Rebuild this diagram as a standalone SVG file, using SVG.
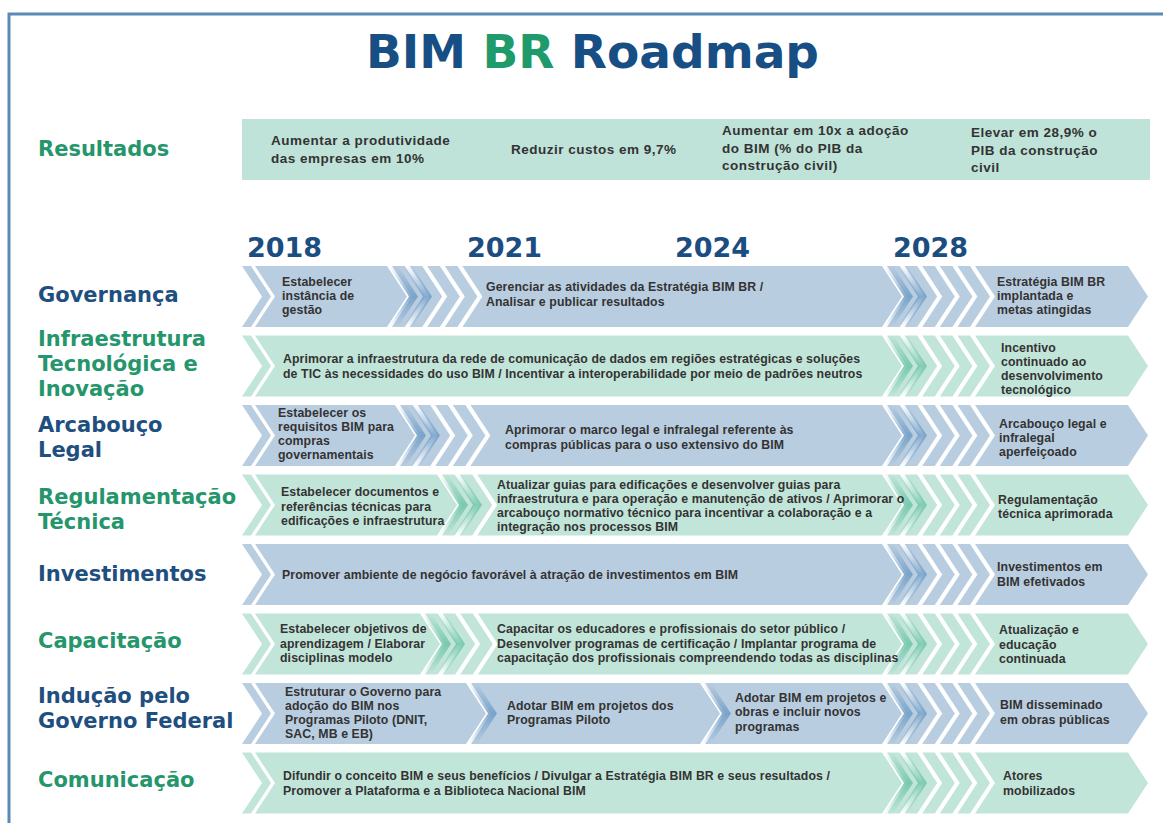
<svg xmlns="http://www.w3.org/2000/svg" width="1163" height="823" viewBox="0 0 1163 823">
<style>
.b{fill:#b9cde0}
.g{fill:#c2e5d9}
.db{fill:url(#gradB)}
.dg{fill:url(#gradG)}
.t{font-family:"Liberation Sans",Arial,sans-serif;font-size:12.3px;font-weight:700;letter-spacing:0.1px;fill:#333333}
.r{font-family:"Liberation Sans",Arial,sans-serif;font-size:13.5px;font-weight:700;letter-spacing:0.5px;fill:#333333}
.lb{font-family:"DejaVu Sans","Liberation Sans",sans-serif;font-size:21px;font-weight:700;fill:#1f4f7f}
.lg{font-family:"DejaVu Sans","Liberation Sans",sans-serif;font-size:21px;font-weight:700;fill:#25966b}
.yr{font-family:"DejaVu Sans","Liberation Sans",sans-serif;font-size:27px;font-weight:700;fill:#1b4d80}
</style>
<defs>
<linearGradient id="gradB" x1="0" y1="0" x2="0" y2="1">
<stop offset="0" stop-color="#6f9cc6" stop-opacity="0"/>
<stop offset="0.5" stop-color="#6f9cc6" stop-opacity="0.85"/>
<stop offset="1" stop-color="#6f9cc6" stop-opacity="0"/>
</linearGradient>
<linearGradient id="gradG" x1="0" y1="0" x2="0" y2="1">
<stop offset="0" stop-color="#6cc4a6" stop-opacity="0"/>
<stop offset="0.5" stop-color="#6cc4a6" stop-opacity="0.85"/>
<stop offset="1" stop-color="#6cc4a6" stop-opacity="0"/>
</linearGradient>
<polygon id="st" points="0,0 12.6,0 32.6,30.5 12.6,61 0,61 20,30.5"/>
<polygon id="ch9" points="0,0 9,0 29,30.5 9,61 0,61 20,30.5"/>
</defs>

<rect width="1163" height="823" fill="#ffffff"/>
<path d="M9,823 V14 H1163" fill="none" stroke="#5b8ab5" stroke-width="3"/>

<g id="title">
<text x="366" y="68" font-family="DejaVu Sans, Liberation Sans, sans-serif" font-size="47" font-weight="700"><tspan fill="#174e84">BIM </tspan><tspan fill="#1f9a6b">BR</tspan><tspan fill="#174e84"> Roadmap</tspan></text>
</g>

<g id="resultados">
<text class="lg" x="38" y="156">Resultados</text>
<rect x="242" y="119" width="908" height="61" fill="#bfe3d9"/>
<text class="r" x="271" y="145">Aumentar a produtividade</text>
<text class="r" x="271" y="163">das empresas em 10%</text>
<text class="r" x="511" y="154">Reduzir custos em 9,7%</text>
<text class="r" x="722" y="135">Aumentar em 10x a adoção</text>
<text class="r" x="722" y="153">do BIM (% do PIB da</text>
<text class="r" x="722" y="170">construção civil)</text>
<text class="r" x="971" y="137">Elevar em 28,9% o</text>
<text class="r" x="971" y="155">PIB da construção</text>
<text class="r" x="971" y="172">civil</text>
</g>

<g id="anos">
<text class="yr" x="247" y="257">2018</text>
<text class="yr" x="467" y="257">2021</text>
<text class="yr" x="675" y="257">2024</text>
<text class="yr" x="893" y="257">2028</text>
</g>

<g id="governanca" transform="translate(0,266)">
<text class="lb" x="38" y="36">Governança</text>
<use href="#ch9" x="242" class="b"/>
<polygon class="b" points="255,0 387,0 407,30.5 387,61 255,61 275,30.5"/>
<use href="#st" x="392" class="b"/><use href="#st" x="409.6" class="b"/><use href="#st" x="427.2" class="b"/><use href="#st" x="444.8" class="b"/>
<polygon class="b" points="462.4,0 882,0 902,30.5 882,61 462.4,61 482.4,30.5"/>
<use href="#st" x="887" class="b"/><use href="#st" x="904.6" class="b"/><use href="#st" x="922.2" class="b"/><use href="#st" x="939.8" class="b"/><use href="#st" x="957.4" class="b"/>
<polygon class="b" points="975,0 1128,0 1148,30.5 1128,61 975,61 995,30.5"/>
<use href="#ch9" x="389" class="db"/><use href="#ch9" x="403" class="db"/>
<use href="#ch9" x="884" class="db"/><use href="#ch9" x="898" class="db"/>
<text class="t" x="282" y="19.5">Estabelecer</text>
<text class="t" x="282" y="33.5">instância de</text>
<text class="t" x="282" y="47.5">gestão</text>
<text class="t" x="486" y="25">Gerenciar as atividades da Estratégia BIM BR /</text>
<text class="t" x="486" y="40">Analisar e publicar resultados</text>
<text class="t" x="997" y="19.5">Estratégia BIM BR</text>
<text class="t" x="997" y="33.5">implantada e</text>
<text class="t" x="997" y="47.5">metas atingidas</text>
</g>

<g id="infraestrutura" transform="translate(0,335.5)">
<text class="lg" x="38" y="10">Infraestrutura</text>
<text class="lg" x="38" y="35">Tecnológica e</text>
<text class="lg" x="38" y="60">Inovação</text>
<use href="#ch9" x="242" class="g"/>
<polygon class="g" points="255,0 882,0 902,30.5 882,61 255,61 275,30.5"/>
<use href="#st" x="887" class="g"/><use href="#st" x="904.6" class="g"/><use href="#st" x="922.2" class="g"/><use href="#st" x="939.8" class="g"/><use href="#st" x="957.4" class="g"/>
<polygon class="g" points="975,0 1128,0 1148,30.5 1128,61 975,61 995,30.5"/>
<use href="#ch9" x="884" class="dg"/><use href="#ch9" x="898" class="dg"/>
<text class="t" x="283" y="27.5">Aprimorar a infraestrutura da rede de comunicação de dados em regiões estratégicas e soluções</text>
<text class="t" x="283" y="42">de TIC às necessidades do uso BIM / Incentivar a interoperabilidade por meio de padrões neutros</text>
<text class="t" x="1001" y="16">Incentivo</text>
<text class="t" x="1001" y="30">continuado ao</text>
<text class="t" x="1001" y="44">desenvolvimento</text>
<text class="t" x="1001" y="58">tecnológico</text>
</g>

<g id="arcabouco" transform="translate(0,405)">
<text class="lb" x="38" y="27">Arcabouço</text>
<text class="lb" x="38" y="52">Legal</text>
<use href="#ch9" x="242" class="b"/>
<polygon class="b" points="255,0 395,0 415,30.5 395,61 255,61 275,30.5"/>
<use href="#st" x="400" class="b"/><use href="#st" x="417.6" class="b"/><use href="#st" x="435.2" class="b"/><use href="#st" x="452.8" class="b"/>
<polygon class="b" points="470.4,0 882,0 902,30.5 882,61 470.4,61 490.4,30.5"/>
<use href="#st" x="887" class="b"/><use href="#st" x="904.6" class="b"/><use href="#st" x="922.2" class="b"/><use href="#st" x="939.8" class="b"/><use href="#st" x="957.4" class="b"/>
<polygon class="b" points="975,0 1128,0 1148,30.5 1128,61 975,61 995,30.5"/>
<use href="#ch9" x="397" class="db"/><use href="#ch9" x="411" class="db"/>
<use href="#ch9" x="884" class="db"/><use href="#ch9" x="898" class="db"/>
<text class="t" x="278" y="12">Estabelecer os</text>
<text class="t" x="278" y="26">requisitos BIM para</text>
<text class="t" x="278" y="40">compras</text>
<text class="t" x="278" y="54">governamentais</text>
<text class="t" x="505" y="29">Aprimorar o marco legal e infralegal referente às</text>
<text class="t" x="505" y="44">compras públicas para o uso extensivo do BIM</text>
<text class="t" x="999" y="23">Arcabouço legal e</text>
<text class="t" x="999" y="37">infralegal</text>
<text class="t" x="999" y="51">aperfeiçoado</text>
</g>

<g id="regulamentacao" transform="translate(0,474.5)">
<text class="lg" x="38" y="29.5">Regulamentação</text>
<text class="lg" x="38" y="54.5">Técnica</text>
<use href="#ch9" x="242" class="g"/>
<polygon class="g" points="255,0 437,0 457,30.5 437,61 255,61 275,30.5"/>
<use href="#st" x="442" class="g"/><use href="#st" x="459.6" class="g"/>
<polygon class="g" points="477.2,0 882,0 902,30.5 882,61 477.2,61 497.2,30.5"/>
<use href="#st" x="887" class="g"/><use href="#st" x="904.6" class="g"/><use href="#st" x="922.2" class="g"/><use href="#st" x="939.8" class="g"/><use href="#st" x="957.4" class="g"/>
<polygon class="g" points="975,0 1128,0 1148,30.5 1128,61 975,61 995,30.5"/>
<use href="#ch9" x="439" class="dg"/><use href="#ch9" x="453" class="dg"/>
<use href="#ch9" x="884" class="dg"/><use href="#ch9" x="898" class="dg"/>
<text class="t" x="281" y="21.5">Estabelecer documentos e</text>
<text class="t" x="281" y="36">referências técnicas para</text>
<text class="t" x="281" y="50.5">edificações e infraestrutura</text>
<text class="t" x="497" y="14.5">Atualizar guias para edificações e desenvolver guias para</text>
<text class="t" x="497" y="28.5">infraestrutura e para operação e manutenção de ativos / Aprimorar o</text>
<text class="t" x="497" y="42.5">arcabouço normativo técnico para incentivar a colaboração e a</text>
<text class="t" x="497" y="56.5">integração nos processos BIM</text>
<text class="t" x="998" y="29.5">Regulamentação</text>
<text class="t" x="998" y="43.5">técnica aprimorada</text>
</g>

<g id="investimentos" transform="translate(0,544)">
<text class="lb" x="38" y="37">Investimentos</text>
<use href="#ch9" x="242" class="b"/>
<polygon class="b" points="255,0 882,0 902,30.5 882,61 255,61 275,30.5"/>
<use href="#st" x="887" class="b"/><use href="#st" x="904.6" class="b"/><use href="#st" x="922.2" class="b"/><use href="#st" x="939.8" class="b"/><use href="#st" x="957.4" class="b"/>
<polygon class="b" points="975,0 1128,0 1148,30.5 1128,61 975,61 995,30.5"/>
<use href="#ch9" x="884" class="db"/><use href="#ch9" x="898" class="db"/>
<text class="t" x="282" y="35">Promover ambiente de negócio favorável à atração de investimentos em BIM</text>
<text class="t" x="997" y="27">Investimentos em</text>
<text class="t" x="997" y="42">BIM efetivados</text>
</g>

<g id="capacitacao" transform="translate(0,613.5)">
<text class="lg" x="38" y="34.5">Capacitação</text>
<use href="#ch9" x="242" class="g"/>
<polygon class="g" points="255,0 420,0 440,30.5 420,61 255,61 275,30.5"/>
<use href="#st" x="425" class="g"/><use href="#st" x="442.6" class="g"/><use href="#st" x="460.2" class="g"/>
<polygon class="g" points="477.8,0 882,0 902,30.5 882,61 477.8,61 497.8,30.5"/>
<use href="#st" x="887" class="g"/><use href="#st" x="904.6" class="g"/><use href="#st" x="922.2" class="g"/><use href="#st" x="939.8" class="g"/><use href="#st" x="957.4" class="g"/>
<polygon class="g" points="975,0 1128,0 1148,30.5 1128,61 975,61 995,30.5"/>
<use href="#ch9" x="422" class="dg"/><use href="#ch9" x="436" class="dg"/>
<use href="#ch9" x="884" class="dg"/><use href="#ch9" x="898" class="dg"/>
<text class="t" x="280" y="19.5">Estabelecer objetivos de</text>
<text class="t" x="280" y="34">aprendizagem / Elaborar</text>
<text class="t" x="280" y="48.5">disciplinas modelo</text>
<text class="t" x="497" y="19.5">Capacitar os educadores e profissionais do setor público /</text>
<text class="t" x="497" y="34">Desenvolver programas de certificação / Implantar programa de</text>
<text class="t" x="497" y="48.5">capacitação dos profissionais compreendendo todas as disciplinas</text>
<text class="t" x="999" y="20.5">Atualização e</text>
<text class="t" x="999" y="35">educação</text>
<text class="t" x="999" y="49.5">continuada</text>
</g>

<g id="inducao" transform="translate(0,683)">
<text class="lb" x="38" y="20">Indução pelo</text>
<text class="lb" x="38" y="45">Governo Federal</text>
<use href="#ch9" x="242" class="b"/>
<polygon class="b" points="255,0 466,0 486,30.5 466,61 255,61 275,30.5"/>
<polygon class="b" points="471,0 700,0 720,30.5 700,61 471,61 491,30.5"/>
<polygon class="b" points="705,0 882,0 902,30.5 882,61 705,61 725,30.5"/>
<use href="#st" x="887" class="b"/><use href="#st" x="904.6" class="b"/><use href="#st" x="922.2" class="b"/><use href="#st" x="939.8" class="b"/><use href="#st" x="957.4" class="b"/>
<polygon class="b" points="975,0 1128,0 1148,30.5 1128,61 975,61 995,30.5"/>
<use href="#ch9" x="468" class="db"/><use href="#ch9" x="702" class="db"/>
<use href="#ch9" x="884" class="db"/><use href="#ch9" x="898" class="db"/>
<text class="t" x="285" y="13">Estruturar o Governo para</text>
<text class="t" x="285" y="27">adoção do BIM nos</text>
<text class="t" x="285" y="41">Programas Piloto (DNIT,</text>
<text class="t" x="285" y="55">SAC, MB e EB)</text>
<text class="t" x="507" y="27">Adotar BIM em projetos dos</text>
<text class="t" x="507" y="41">Programas Piloto</text>
<text class="t" x="735" y="19">Adotar BIM em projetos e</text>
<text class="t" x="735" y="33">obras e incluir novos</text>
<text class="t" x="735" y="47.5">programas</text>
<text class="t" x="1000" y="26">BIM disseminado</text>
<text class="t" x="1000" y="41">em obras públicas</text>
</g>

<g id="comunicacao" transform="translate(0,752.5)">
<text class="lg" x="38" y="34.5">Comunicação</text>
<use href="#ch9" x="242" class="g"/>
<polygon class="g" points="255,0 882,0 902,30.5 882,61 255,61 275,30.5"/>
<use href="#st" x="887" class="g"/><use href="#st" x="904.6" class="g"/><use href="#st" x="922.2" class="g"/><use href="#st" x="939.8" class="g"/><use href="#st" x="957.4" class="g"/>
<polygon class="g" points="975,0 1128,0 1148,30.5 1128,61 975,61 995,30.5"/>
<use href="#ch9" x="884" class="dg"/><use href="#ch9" x="898" class="dg"/>
<text class="t" x="283" y="27.5">Difundir o conceito BIM e seus benefícios / Divulgar a Estratégia BIM BR e seus resultados /</text>
<text class="t" x="283" y="42.5">Promover a Plataforma e a Biblioteca Nacional BIM</text>
<text class="t" x="1003" y="27.5">Atores</text>
<text class="t" x="1003" y="42.5">mobilizados</text>
</g>

<g id="connectors"></g>
</svg>
